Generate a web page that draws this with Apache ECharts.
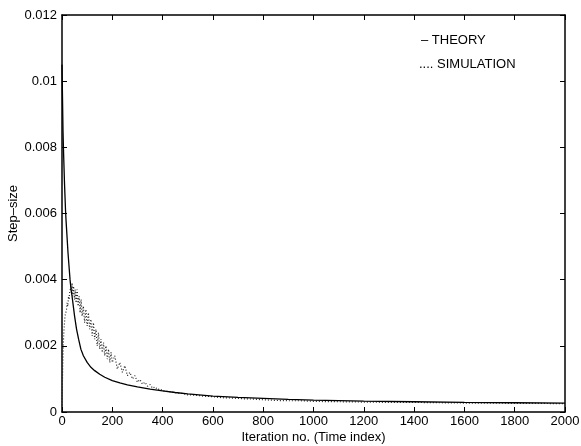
<!DOCTYPE html>
<html><head><meta charset="utf-8">
<script src="https://cdn.jsdelivr.net/npm/echarts@6/dist/echarts.min.js"></script>
<style>html,body{margin:0;padding:0;background:#fff}#c{width:581px;height:446px}</style>
</head><body><div id="c"></div>
<script>
const xTicks = [0,200,400,600,800,1000,1200,1400,1600,1800,2000];
const yTicks = [0,0.002,0.004,0.006,0.008,0.01,0.012];
const theoryIter = [0,1,2,3,4,6,8,10,12,14,16,20,24,28,32,36,40,45,50,58,66,75,85,100,115,130,150,170,200,230,260,300,350,400,450,500,600,700,800,900,1000,1200,1400,1600,1800,2000];
const theoryVal = [0.0105,0.0100,0.0095,0.0090,0.0085,0.0079,0.0074,0.0069,0.0065,0.0061,0.0058,0.0053,0.0048,0.0044,0.0040,0.0037,0.0035,0.0032,0.0029,0.0025,0.0022,0.0019,0.0017,0.0015,0.00135,0.00125,0.00114,0.00105,0.00095,0.00088,0.00082,0.00076,0.00069,0.00064,0.00059,0.00055,0.00048,0.00044,0.00041,0.00038,0.00036,0.00033,0.00031,0.00029,0.00028,0.00027];
const simIter = [0,1,2,3,4,5,6,8,10,12,15,18,20,23,26,28,30,33,36,38,40,43,46,50,53,56,60,64,68,72,76,80,85,90,95,100,105,110,115,120,125,130,135,140,145,150,155,160,165,170,175,180,185,190,195,200,210,220,230,240,250,260,270,280,290,300,310,320,330,340,350,360,370,380,390,400,420,440,460,480,500,530,560,600,640,680,720,760,800,850,900,950,1000,1100,1200,1300,1400,1500,1600,1700,1800,1900,2000];
const simVal = [0.0002,0.0006,0.0010,0.0014,0.0017,0.0020,0.0022,0.0025,0.0027,0.0029,0.0030,0.0031,0.0033,0.0032,0.0035,0.0034,0.0036,0.0037,0.0038,0.0036,0.0039,0.0035,0.0038,0.0034,0.0037,0.0033,0.0037,0.0032,0.0035,0.0030,0.0034,0.0029,0.0032,0.0027,0.0031,0.0026,0.0030,0.0025,0.0028,0.0023,0.0027,0.0022,0.0025,0.0020,0.0024,0.0019,0.0022,0.0018,0.0021,0.0017,0.0020,0.0016,0.0019,0.0015,0.0018,0.0015,0.0017,0.0013,0.0015,0.0012,0.0014,0.0011,0.0012,0.00100,0.0011,0.00090,0.00098,0.00084,0.00090,0.00078,0.00083,0.00072,0.00076,0.00068,0.00070,0.00064,0.00062,0.00060,0.00057,0.00056,0.00052,0.00051,0.00048,0.00046,0.00043,0.00042,0.00040,0.00039,0.00037,0.00035,0.00034,0.00034,0.00032,0.00031,0.00030,0.00029,0.00029,0.00028,0.00027,0.00027,0.00026,0.00026,0.00025];
const legendTexts = ['\u2013 THEORY', '.... SIMULATION'];
const xName = 'Iteration no. (Time index)';
const yName = 'Step\u2013size';

const font = 'Liberation Sans, Arial, sans-serif';
const axisLine = {show:true, onZero:false, lineStyle:{color:'#000', width:1.5}};
const tick = {show:true, inside:true, length:5, lineStyle:{color:'#000', width:1}};
const chart = echarts.init(document.getElementById('c'), null, {renderer:'canvas'});
chart.setOption({
  animation:false,
  backgroundColor:'#fff',
  grid:{left:62, right:16, top:15, bottom:34, containLabel:false, outerBoundsMode:'none'},
  xAxis:[
    {type:'value', min:0, max:2000, interval:200, position:'bottom',
     axisLine:axisLine, axisTick:tick, splitLine:{show:false},
     axisLabel:{color:'#000', fontSize:13, fontFamily:font, margin:3, formatter:v=>String(v)},
     name:xName, nameLocation:'middle', nameGap:19, nameMoveOverlap:false,
     nameTextStyle:{color:'#000', fontSize:13, fontFamily:font}},
    {type:'value', min:0, max:2000, interval:200, position:'top',
     axisLine:axisLine, axisTick:tick, splitLine:{show:false}, axisLabel:{show:false}}
  ],
  yAxis:[
    {type:'value', min:0, max:0.012, interval:0.002, position:'left',
     axisLine:axisLine, axisTick:tick, splitLine:{show:false},
     axisLabel:{color:'#000', fontSize:13, fontFamily:font, margin:5},
     name:yName, nameLocation:'middle', nameGap:42, nameRotate:90, nameMoveOverlap:false,
     nameTextStyle:{color:'#000', fontSize:13, fontFamily:font}},
    {type:'value', min:0, max:0.012, interval:0.002, position:'right',
     axisLine:axisLine, axisTick:tick, splitLine:{show:false}, axisLabel:{show:false}}
  ],
  series:[
    {name:'SIMULATION', type:'line', xAxisIndex:0, yAxisIndex:0, showSymbol:false,
     data:simIter.map((x,i)=>[x,simVal[i]]),
     lineStyle:{color:'#222', width:1.2, type:[1,2]}},
    {name:'THEORY', type:'line', xAxisIndex:0, yAxisIndex:0, showSymbol:false,
     data:theoryIter.map((x,i)=>[x,theoryVal[i]]),
     lineStyle:{color:'#000', width:1.3}}
  ],
  graphic:[
    {type:'text', left:421, top:34, style:{text:legendTexts[0], fill:'#000', font:'13px '+font}},
    {type:'text', left:419, top:58, style:{text:legendTexts[1], fill:'#000', font:'13px '+font}}
  ]
});
</script></body></html>
